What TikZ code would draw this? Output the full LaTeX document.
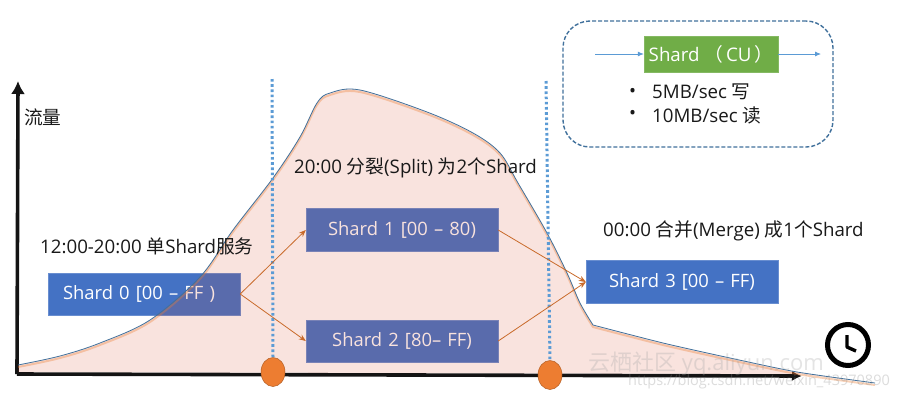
\documentclass[tikz,border=0pt]{standalone}
\usepackage{fontspec}
\setmainfont{Open Sans}
\newfontfamily\cjk{Noto Sans CJK SC}
\usetikzlibrary{arrows.meta,shapes.geometric}
\definecolor{bluebox}{HTML}{4472C4}
\definecolor{greenbox}{HTML}{70AD47}
\definecolor{orangec}{HTML}{ED7D31}
\definecolor{wash}{HTML}{D74423}
\definecolor{thinblue}{HTML}{5B9BD5}
\definecolor{dashblue}{HTML}{41719C}
\tikzset{
 bigtext/.style={font=\fontsize{18.7}{21}\selectfont},
 shardbox/.style={fill=bluebox,draw=bluebox!80!white,line width=.4pt,text=white,font=\fontsize{18.4}{21}\selectfont,inner sep=0pt,text width=192pt,align=center},
 lbl/.style={text=black!90,bigtext,inner sep=0pt,anchor=west},
 link/.style={draw=orangec!85!black,line width=.8pt,-{Stealth[length=7pt,width=5.5pt]}},
 guide/.style={draw=thinblue,line width=3pt,dash pattern=on 2.6pt off 2.6pt},
 event/.style={ellipse,fill=orangec,draw=orangec!75!black,line width=.5pt,minimum width=24pt,minimum height=29pt,inner sep=0pt},
 axisline/.style={draw=black!92,line width=3.6pt},
 flow/.style={draw=thinblue,line width=.8pt,-{Latex[length=6pt,width=5pt]}}
}
\def\fullcurve{plot[smooth,tension=.55] coordinates {(18,365) (60,356) (100,343) (150,320) (200,277) (233,230) (273,178) (300,137) (317,103) (330,93) (360,90) (427,112) (473,133) (500,153) (518,183) (547,233) (567,273) (580,303) (593,325)} -- plot[smooth,tension=.4] coordinates {(593,325) (663,343) (730,358) (797,372) (875,383)}}
\begin{document}
\begin{tikzpicture}[x=1pt,y=-1pt]
\useasboundingbox (0,0) rectangle (900,400);
\fill[white] (0,0) rectangle (900,400);
% axes
\coordinate (o) at (17,374); \coordinate (ytop) at (18,81); \coordinate (xend) at (802,376);
\draw[axisline,-{Latex[length=13pt,width=14pt]}] (o) -- (ytop);
\draw[axisline,-{Latex[length=10pt,width=10pt]}] (o) -- (xend);
% boxes
\node[shardbox,minimum height=42pt,align=left] (s0) at (144,294) {\hspace{15pt}Shard 0 [00 – FF )};
\node[shardbox,minimum height=43pt] (s1) at (402,230) {Shard 1 [00 – 80)};
\node[shardbox,minimum height=42pt] (s2) at (402,341) {Shard 2 [80– FF)};
\node[shardbox,minimum height=43pt] (s3) at (682,282) {Shard 3 [00 – FF)};
% curve
\fill[wash,fill opacity=.15] \fullcurve -- (800,374) -- (18,372) -- cycle;
\begin{scope}[yshift=-2pt]
\draw[orangec,draw opacity=.35,line width=2pt] \fullcurve;
\end{scope}
\draw[dashblue,line width=.8pt] \fullcurve;
% guides
\node[event] (e1) at (273,372) {};
\node[event] (e2) at (550,375) {};
\coordinate (g1t) at (272,79); \coordinate (g2t) at (546,81);
\draw[guide] (g1t) -- (e1.north);
\draw[guide] (g2t) -- (e2.north);
% connectors
\draw[link] (s0.east) -- (s1.west);
\draw[link] (s0.east) -- (s2.west);
\draw[link] (s1.east) -- (s3.west);
\draw[link] (s2.east) -- (s3.west);
% labels
\node[lbl] (yl) at (24,117) {\cjk 流量};
\node[lbl] (l1) at (40,246) {12:00-20:00 {\cjk 单}Shard{\cjk 服务}};
\node[lbl] (l2) at (294,168) {20:00 {\cjk 分裂}(Split) {\cjk 为}2{\cjk 个}Shard};
\node[lbl] (l3) at (603,231) {00:00 {\cjk 合并}(Merge) {\cjk 成}1{\cjk 个}Shard};
% clock
\node[circle,draw=black,line width=5pt,fill=white,minimum size=41pt,inner sep=0pt] (clk) at (848,345) {};
\coordinate (c1) at (847,335); \coordinate (c2) at (847,347); \coordinate (c3) at (856,351);
\draw[line width=3.4pt,line join=round] (c1) -- (c2) -- (c3);
% legend
\node[draw=dashblue,line width=1.4pt,dash pattern=on 4pt off 2pt,rounded corners=27pt,minimum width=270pt,minimum height=126pt,inner sep=0pt] (leg) at (698,84) {};
\node[fill=greenbox,draw=greenbox!85!white,text=white,bigtext,minimum width=134pt,minimum height=36pt,inner sep=0pt] (cu) at (711,54) {Shard {\cjk （}\hspace{3pt}CU\hspace{3pt}{\cjk ）}};
\coordinate (in) at (595,54); \coordinate (out) at (821,54);
\draw[flow] (in) -- (cu.west);
\draw[flow] (cu.east) -- (out);
\node[lbl] (b1) at (629,93) {•};
\node[lbl] (b2) at (629,115) {•};
\node[lbl] (t1) at (652,92) {5MB/sec {\cjk 写}};
\node[lbl] (t2) at (652,115) {10MB/sec {\cjk 读}};
% watermark
\node[text=black!35,text opacity=.3,font=\fontsize{22}{24}\selectfont,inner sep=0pt,anchor=west] (w1) at (588,364) {{\cjk 云栖社区} yq.aliyun.com};
\node[text=black!45,text opacity=.3,font=\fontsize{14.5}{16}\selectfont,inner sep=0pt,anchor=east] (w2) at (890,382) {https://blog.csdn.net/weixin\_43970890};
\end{tikzpicture}
\end{document}
